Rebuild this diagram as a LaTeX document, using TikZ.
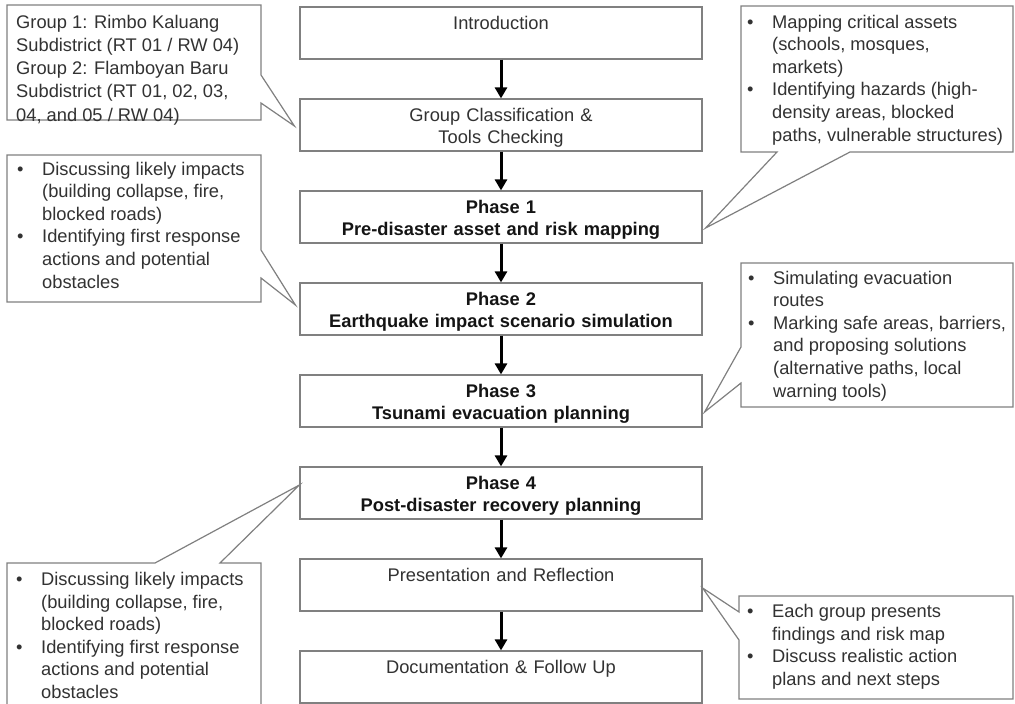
\documentclass[tikz,border=0pt]{standalone}
\usepackage{fontspec}
\setmainfont{Liberation Sans}
\usetikzlibrary{arrows.meta,calc}
\definecolor{bordergray}{RGB}{128,128,128}
\definecolor{txt}{RGB}{50,50,50}
\definecolor{boldtxt}{RGB}{20,20,20}
\newcommand\mystrut{\rule[-4pt]{0pt}{22pt}}
\newcommand\bul{\makebox[25pt][l]{\textbullet}}
\newcommand\ind{\hspace*{25pt}}
\begin{document}
\begin{tikzpicture}[x=1pt,y=-1pt,
  stepbox/.style={draw=bordergray,line width=1.2pt,fill=white,minimum width=402pt,minimum height=52pt,
    text width=396pt,align=center,inner sep=0pt,font=\fontsize{18.3}{22}\selectfont,text=txt},
  phasebox/.style={stepbox,text=boldtxt,font=\fontsize{18.3}{22}\selectfont\bfseries},
  flow/.style={line width=3pt,draw=black,-{Triangle[width=12pt,length=11pt]}},
  callout/.style={draw=bordergray,line width=1.2pt,fill=white,line join=miter},
  ctext/.style={anchor=base west,inner sep=0pt,text=txt,font=\fontsize{18.3}{22.6}\selectfont}]
\useasboundingbox (0,0) rectangle (1015,704);
\fill[white] (0,0) rectangle (1015,704);

% central flow
\node[stepbox] (intro) at (501,33) {\mystrut Introduction\\\mystrut};
\node[stepbox] (grp) at (501,125) {\mystrut Group Classification \&\\\mystrut Tools Checking};
\node[phasebox] (p1) at (501,217) {\mystrut Phase 1\\\mystrut Pre-disaster asset and risk mapping};
\node[phasebox] (p2) at (501,309) {\mystrut Phase 2\\\mystrut Earthquake impact scenario simulation};
\node[phasebox] (p3) at (501,401) {\mystrut Phase 3\\\mystrut Tsunami evacuation planning};
\node[phasebox] (p4) at (501,493) {\mystrut Phase 4\\\mystrut Post-disaster recovery planning};
\node[stepbox] (pres) at (501,585) {\mystrut Presentation and Reflection\\\mystrut};
\node[stepbox] (doc) at (501,677) {\mystrut Documentation \& Follow Up\\\mystrut};

\draw[flow] (intro) -- (grp);
\draw[flow] (grp) -- (p1);
\draw[flow] (p1) -- (p2);
\draw[flow] (p2) -- (p3);
\draw[flow] (p3) -- (p4);
\draw[flow] (p4) -- (pres);
\draw[flow] (pres) -- (doc);

% callout tips
\coordinate (tip1) at ($(grp.west)+(-5,1)$);
\coordinate (tip2) at ($(p1.east)+(3,11)$);
\coordinate (tip3) at ($(p2.west)+(-4,-4)$);
\coordinate (tip4) at ($(p3.east)+(2,11)$);
\coordinate (tip5) at ($(p4.west)+(0,-8)$);
\coordinate (tip6) at ($(pres.east)+(0,3)$);

% callout outlines
\draw[callout] (7,5) -- (261,5) -- (261,75) -- (tip1) -- (261,103) -- (261,120) -- (7,120) -- cycle;
\draw[callout] (741,6) -- (1013,6) -- (1013,152) -- (850,152) -- (tip2) -- (777,152) -- (741,152) -- cycle;
\draw[callout] (7,155) -- (261,155) -- (261,250) -- (tip3) -- (261,278) -- (261,302) -- (7,302) -- cycle;
\draw[callout] (741,263) -- (1013,263) -- (1013,407) -- (741,407) -- (741,383) -- (tip4) -- (741,347) -- cycle;
\draw[callout] (7,563) -- (155,563) -- (tip5) -- (220,563) -- (261,563) -- (261,714) -- (7,714) -- cycle;
\draw[callout] (739,596) -- (1013,596) -- (1013,699) -- (739,699) -- (739,640) -- (tip6) -- (739,612) -- cycle;

% callout texts
\node[ctext,font=\fontsize{18.3}{23.3}\selectfont] (c1) at (16,28) {\begin{tabular}[t]{@{}l@{}}
Group 1: Rimbo Kaluang\\
Subdistrict (RT 01 / RW 04)\\
Group 2: Flamboyan Baru\\
Subdistrict (RT 01, 02, 03,\\
04, and 05 / RW 04)\end{tabular}};

\node[ctext] (c2) at (747,28) {\begin{tabular}[t]{@{}l@{}}
\bul Mapping critical assets\\
\ind (schools, mosques,\\
\ind markets)\\
\bul Identifying hazards (high-\\
\ind density areas, blocked\\
\ind paths, vulnerable structures)\end{tabular}};

\node[ctext] (c3) at (17,175) {\begin{tabular}[t]{@{}l@{}}
\bul Discussing likely impacts\\
\ind (building collapse, fire,\\
\ind blocked roads)\\
\bul Identifying first response\\
\ind actions and potential\\
\ind obstacles\end{tabular}};

\node[ctext] (c4) at (748,284) {\begin{tabular}[t]{@{}l@{}}
\bul Simulating evacuation\\
\ind routes\\
\bul Marking safe areas, barriers,\\
\ind and proposing solutions\\
\ind (alternative paths, local\\
\ind warning tools)\end{tabular}};

\node[ctext] (c5) at (16,585.5) {\begin{tabular}[t]{@{}l@{}}
\bul Discussing likely impacts\\
\ind (building collapse, fire,\\
\ind blocked roads)\\
\bul Identifying first response\\
\ind actions and potential\\
\ind obstacles\end{tabular}};

\node[ctext] (c6) at (747,617.5) {\begin{tabular}[t]{@{}l@{}}
\bul Each group presents\\
\ind findings and risk map\\
\bul Discuss realistic action\\
\ind plans and next steps\end{tabular}};
\end{tikzpicture}
\end{document}
